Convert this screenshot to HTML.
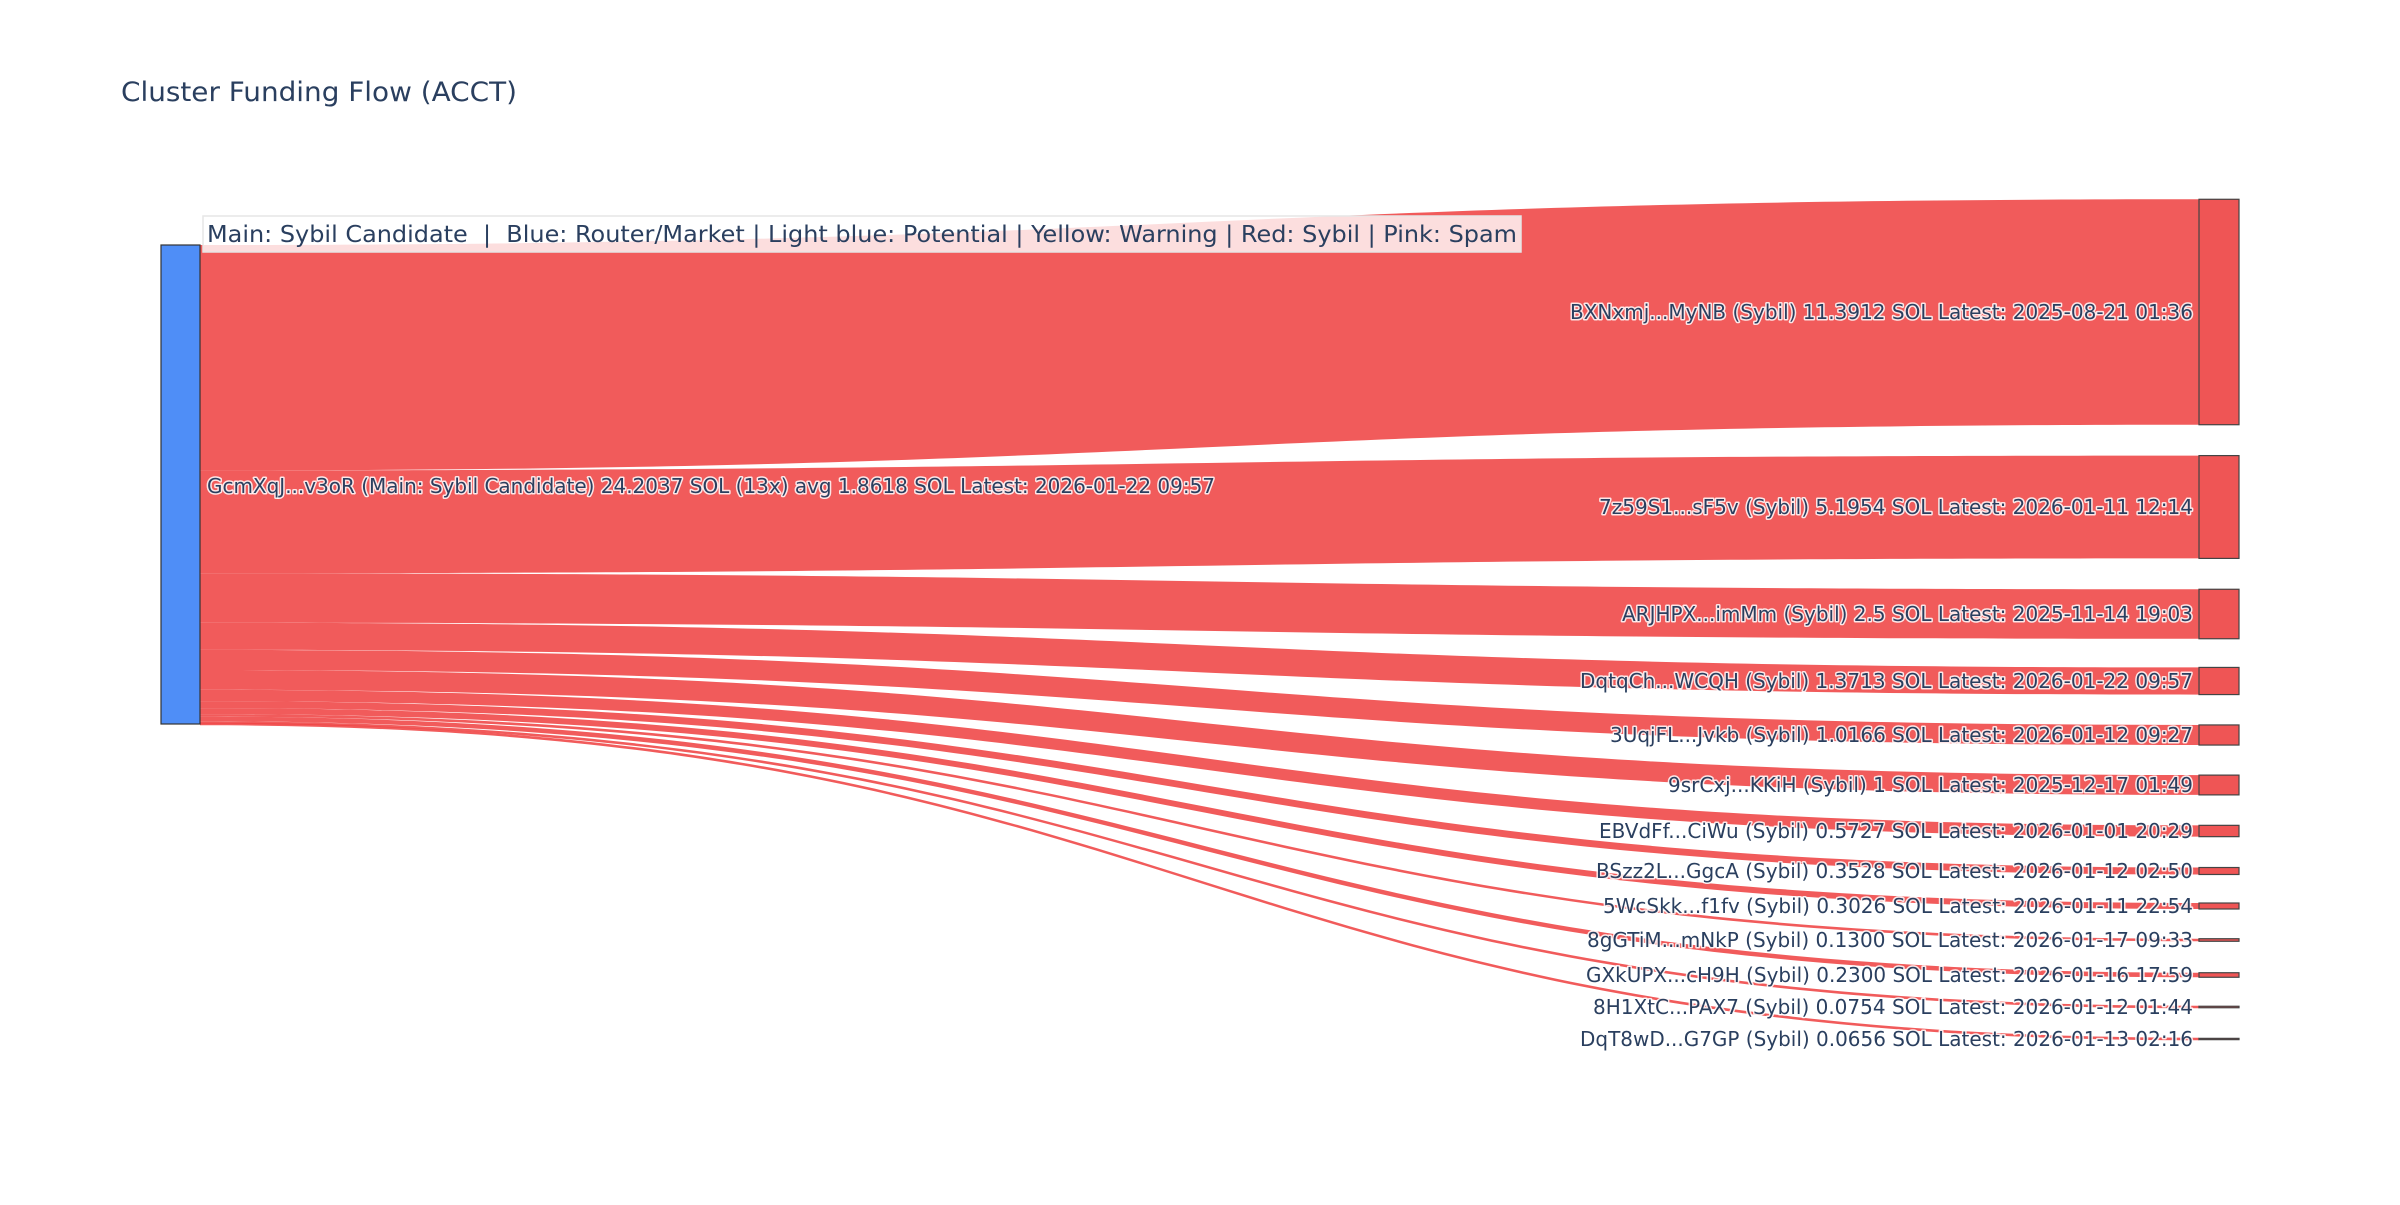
<!DOCTYPE html>
<html><head><meta charset="utf-8"><style>
html,body{margin:0;padding:0;background:#fff;}
svg text{font-family:"DejaVu Sans","Liberation Sans",sans-serif;fill:#2a3f5f;}
.lbl{font-size:20px;paint-order:stroke;stroke:rgba(255,255,255,0.85);stroke-width:3px;stroke-linejoin:round;}
</style></head><body>
<svg id="s" width="2400" height="1200" viewBox="0 0 2400 1200" xmlns="http://www.w3.org/2000/svg">
<rect width="2400" height="1200" fill="#fff"/>
<text x="121" y="101" font-size="27" textLength="396" lengthAdjust="spacingAndGlyphs">Cluster Funding Flow (ACCT)</text>
<g id="links"></g>
<g id="nodes"></g>
<rect x="203" y="216" width="1318" height="36" fill="rgba(255,255,255,0.8)" stroke="#e6e6e6" stroke-width="1.5"/>
<text x="207" y="242" font-size="23" textLength="1310" lengthAdjust="spacingAndGlyphs" xml:space="preserve">Main: Sybil Candidate  |  Blue: Router/Market | Light blue: Potential | Yellow: Warning | Red: Sybil | Pink: Spam</text>
<text class="lbl" x="207" y="493" textLength="1008" lengthAdjust="spacingAndGlyphs">GcmXqJ...v3oR (Main: Sybil Candidate) 24.2037 SOL (13x) avg 1.8618 SOL Latest: 2026-01-22 09:57</text>
<g id="rl" text-anchor="end"></g>
</svg>
<script>
var vals=[11.3912,5.1954,2.5,1.3713,1.0166,1,0.5727,0.3528,0.3026,0.13,0.23,0.0754,0.0656];
var centers=[312,507,614,681,735,785,831,871,906,940,975,1007,1039];
var widths=[623,594,571,613,583,525,594,597,590,606,607,600,613];
var labels=["BXNxmj...MyNB (Sybil) 11.3912 SOL Latest: 2025-08-21 01:36","7z59S1...sF5v (Sybil) 5.1954 SOL Latest: 2026-01-11 12:14","ARJHPX...imMm (Sybil) 2.5 SOL Latest: 2025-11-14 19:03","DqtqCh...WCQH (Sybil) 1.3713 SOL Latest: 2026-01-22 09:57","3UqjFL...Jvkb (Sybil) 1.0166 SOL Latest: 2026-01-12 09:27","9srCxj...KKiH (Sybil) 1 SOL Latest: 2025-12-17 01:49","EBVdFf...CiWu (Sybil) 0.5727 SOL Latest: 2026-01-01 20:29","BSzz2L...GgcA (Sybil) 0.3528 SOL Latest: 2026-01-12 02:50","5WcSkk...f1fv (Sybil) 0.3026 SOL Latest: 2026-01-11 22:54","8gGTiM...mNkP (Sybil) 0.1300 SOL Latest: 2026-01-17 09:33","GXkUPX...cH9H (Sybil) 0.2300 SOL Latest: 2026-01-16 17:59","8H1XtC...PAX7 (Sybil) 0.0754 SOL Latest: 2026-01-12 01:44","DqT8wD...G7GP (Sybil) 0.0656 SOL Latest: 2026-01-13 02:16"];
var ns="http://www.w3.org/2000/svg";
var L=document.getElementById("links"),N=document.getElementById("nodes"),R=document.getElementById("rl");
var k=479/24.2036, y0=245, x0=200, x1=2199, xm=(x0+x1)/2;
function el(t,a,p){var e=document.createElementNS(ns,t);for(var q in a)e.setAttribute(q,a[q]);p.appendChild(e);return e;}
for(var i=0;i<vals.length;i++){
 var h=Math.max(vals[i]*k,1.2), lh=Math.max(h,2.6), t1=centers[i]-lh/2, b1=t1+lh, t0=y0, b0=y0+lh; y0=y0+h;
 el("path",{d:"M"+x0+","+t0+"C"+xm+","+t0+" "+xm+","+t1+" "+x1+","+t1+"L"+x1+","+b1+"C"+xm+","+b1+" "+xm+","+b0+" "+x0+","+b0+"Z",fill:"rgba(239,68,68,0.88)"},L);
 el("rect",{x:2199,y:centers[i]-h/2,width:40,height:h,fill:"#EF5555",stroke:"#444",'stroke-width':1.2},N);
 var tx=el("text",{x:2193,y:centers[i]+7,"class":"lbl",textLength:widths[i],lengthAdjust:"spacingAndGlyphs"},R); tx.textContent=labels[i];
}
el("rect",{x:161,y:245,width:39,height:479,fill:"#4F8EF7",stroke:"#333",'stroke-width':1.2},N);
</script>
</body></html>
